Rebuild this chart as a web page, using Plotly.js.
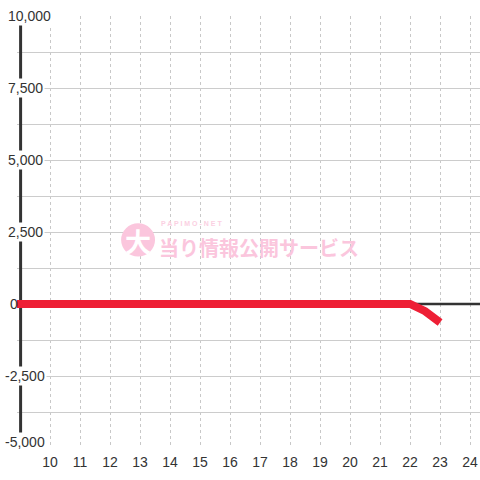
<!DOCTYPE html>
<html>
<head>
<meta charset="utf-8">
<script src="https://cdn.plot.ly/plotly-3.0.1.min.js"></script>
<style>html,body{margin:0;padding:0;background:#fff;}#chart{width:480px;height:480px;}</style>
</head>
<body>
<div id="chart"></div>
<script>
// Data
var xValues = [8.9, 10, 11, 12, 13, 14, 15, 16, 17, 18, 19, 20, 21, 22, 22.5, 23];
var yValues = [0, 0, 0, 0, 0, 0, 0, 0, 0, 0, 0, 0, 0, 0, -250, -640];
var xTickVals = [10, 11, 12, 13, 14, 15, 16, 17, 18, 19, 20, 21, 22, 23, 24];
var yTickVals = [10000, 7500, 5000, 2500, 0, -2500, -5000];
var yTickText = ["10,000", "7,500", "5,000", "2,500", "0", "-2,500", "-5,000"];

var font = "'Liberation Sans', Arial, sans-serif";
var W = 480, ml = 17;
var plotW = W - ml;
function px2paper(px) { return (px - ml) / plotW; }

var annotations = yTickVals.map(function (v, i) {
  var t = yTickText[i];
  var leftPx = t.charAt(0) === '-' ? 3 : (t === '0' ? 8 : 6);
  var yv = v;
  if (v === -5000) yv = -4780;
  return {
    x: px2paper(leftPx), xref: 'paper', xanchor: 'left',
    y: yv, yref: 'y', yanchor: 'middle',
    text: t, showarrow: false,
    font: {family: font, size: 14, color: '#333'},
    bgcolor: t === '0' ? 'rgba(0,0,0,0)' : '#ffffff', borderpad: 1
  };
});

// watermark
annotations.push({
  x: 12.93, xref: 'x', y: 2200, yref: 'y', text: '<b>大</b>', showarrow: false,
  font: {family: "'Noto Sans CJK JP', sans-serif", size: 26, color: '#ffffff'}
});
annotations.push({
  x: 13.6, xref: 'x', xanchor: 'left', y: 1950, yref: 'y', text: '<b>当り情報公開サービス</b>', showarrow: false,
  font: {family: "'Noto Sans CJK JP', sans-serif", size: 20, color: '#fbc6dd'}, borderpad: 0
});
annotations.push({
  x: 13.67, xref: 'x', xanchor: 'left', y: 2800, yref: 'y', text: '<b>P A P I M O - N E T</b>', showarrow: false,
  font: {family: font, size: 7, color: '#fbd0e2'}, borderpad: 0
});

var trace = {
  x: xValues, y: yValues, type: 'scatter', mode: 'lines',
  line: {color: '#ee1f35', width: 8, shape: 'linear'},
  hoverinfo: 'skip', cliponaxis: false
};

var layout = {
  width: 480, height: 480,
  margin: {l: ml, r: 0, t: 16, b: 32, pad: 0},
  paper_bgcolor: '#ffffff', plot_bgcolor: '#ffffff',
  showlegend: false,
  xaxis: {
    range: [8.9, 24.33], tickvals: xTickVals, ticktext: xTickVals.map(String),
    showgrid: true, gridcolor: '#c8c8c8', griddash: 'dot', gridwidth: 1,
    zeroline: false, showline: false, ticks: '', ticklabelstandoff: 4,
    tickfont: {family: font, size: 14, color: '#333'}, fixedrange: true
  },
  yaxis: {
    range: [-5000, 10000], dtick: 1250, tick0: 0,
    showgrid: true, gridcolor: '#cccccc', gridwidth: 1,
    zeroline: false, showline: false, showticklabels: false, ticks: '', fixedrange: true
  },
  shapes: [
    {type: 'line', xref: 'x', yref: 'y', x0: 9.02, x1: 9.02, y0: -5000, y1: 10000,
     line: {color: '#333333', width: 3}, layer: 'between'},
    {type: 'line', xref: 'x', yref: 'y', x0: 9.02, x1: 24.33, y0: 0, y1: 0,
     line: {color: '#333333', width: 2.5}, layer: 'between'},
    {type: 'circle', xref: 'x', yref: 'y', x0: 12.37, x1: 13.5, y0: 1650, y1: 2800,
     fillcolor: '#fbc6dd', line: {width: 0}, layer: 'above'}
  ],
  annotations: annotations
};

Plotly.newPlot('chart', [trace], layout, {displayModeBar: false, staticPlot: true});
</script>
</body>
</html>
